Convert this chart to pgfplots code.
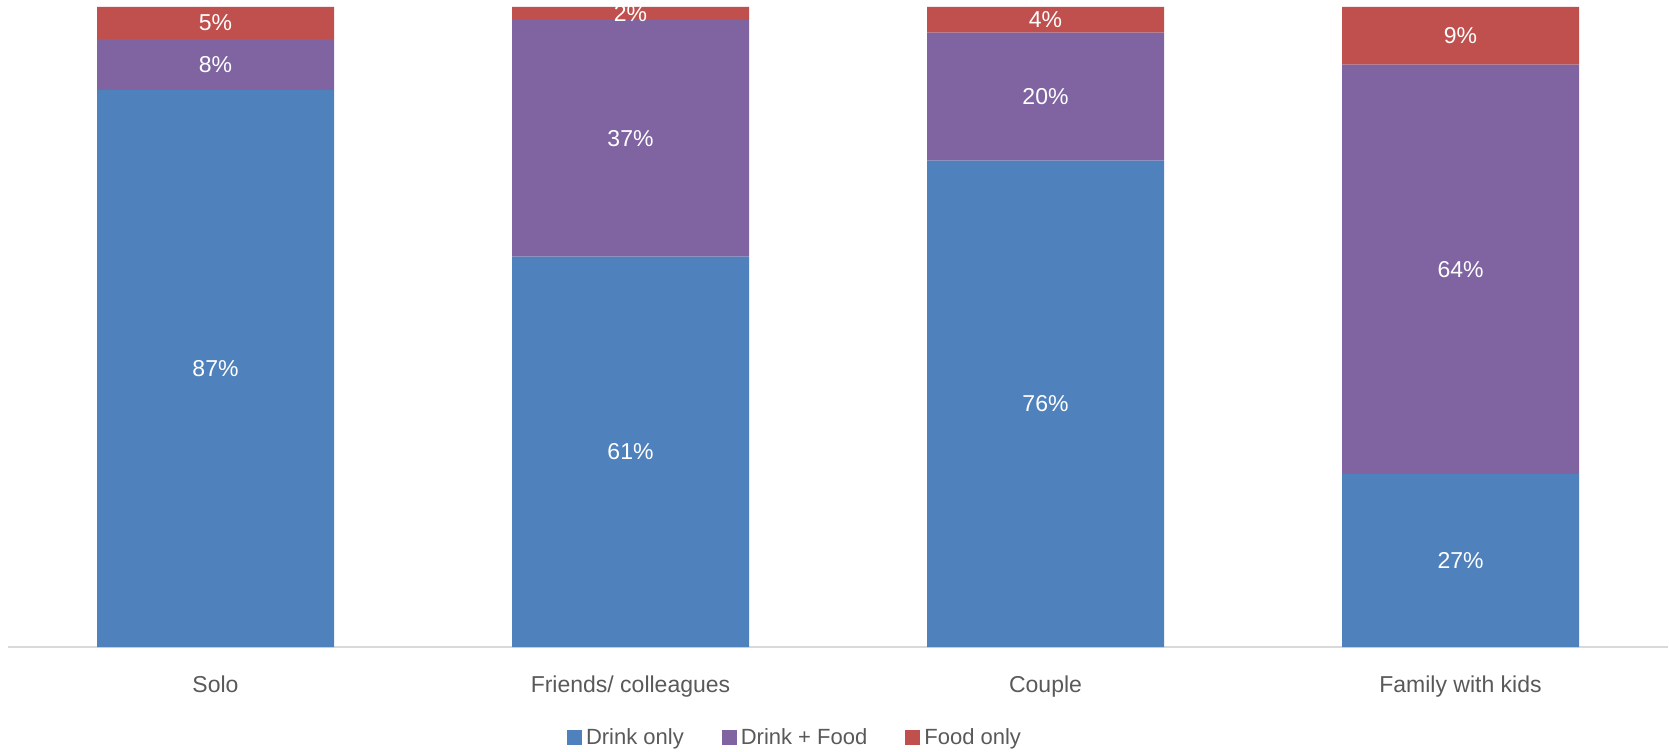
\documentclass[border=0pt]{standalone}
\usepackage{pgfplots}
\pgfplotsset{compat=1.18}
\usepackage{fontspec}
\setmainfont{Liberation Sans}
\definecolor{cblue}{HTML}{4F81BD}
\definecolor{cpurple}{HTML}{8064A2}
\definecolor{cred}{HTML}{C0504D}
\definecolor{ctext}{HTML}{595959}
\definecolor{caxis}{HTML}{D9D9D9}
\begin{document}
\begin{tikzpicture}
\path[use as bounding box] (-4pt,-52pt) rectangle (830.5pt,323.5pt);
\begin{axis}[
  at={(0,0)}, anchor=south west,
  scale only axis,
  width=830pt, height=320pt,
  ybar stacked,
  bar width=118.5pt,
  xmin=-0.5, xmax=3.5,
  ymin=0, ymax=100,
  axis x line*=bottom,
  axis y line=none,
  x axis line style={draw=caxis, line width=1pt, -},
  xtick=data,
  xticklabels={Solo, Friends/ colleagues, Couple, Family with kids},
  major tick length=0pt,
  xticklabel style={font=\fontsize{11.5}{13}\selectfont, text=ctext, anchor=base, yshift=-22.5pt},
  nodes near coords={\pgfmathprintnumber[assume math mode=true]{\pgfplotspointmeta}\%},
  every node near coord/.append style={font=\fontsize{11.5}{13}\selectfont, text=white, anchor=center},
  legend columns=3,
  legend style={at={(0.4747,-0.142)}, anchor=center, draw=none, fill=none,
    font=\fontsize{11}{12}\selectfont, text=ctext,
    /tikz/every even column/.append style={column sep=17pt},
    nodes={inner xsep=2pt}},
  legend image code/.code={\fill[#1] (0pt,-3.75pt) rectangle (7.5pt,3.75pt);},
  clip=false,
]
\addplot[fill=cblue, draw=none] coordinates {(0,87) (1,61) (2,76) (3,27)};
\addplot[fill=cpurple, draw=none] coordinates {(0,8) (1,37) (2,20) (3,64)};
\addplot[fill=cred, draw=none] coordinates {(0,5) (1,2) (2,4) (3,9)};
\legend{Drink only, Drink + Food, Food only}
\end{axis}
\end{tikzpicture}
\end{document}
